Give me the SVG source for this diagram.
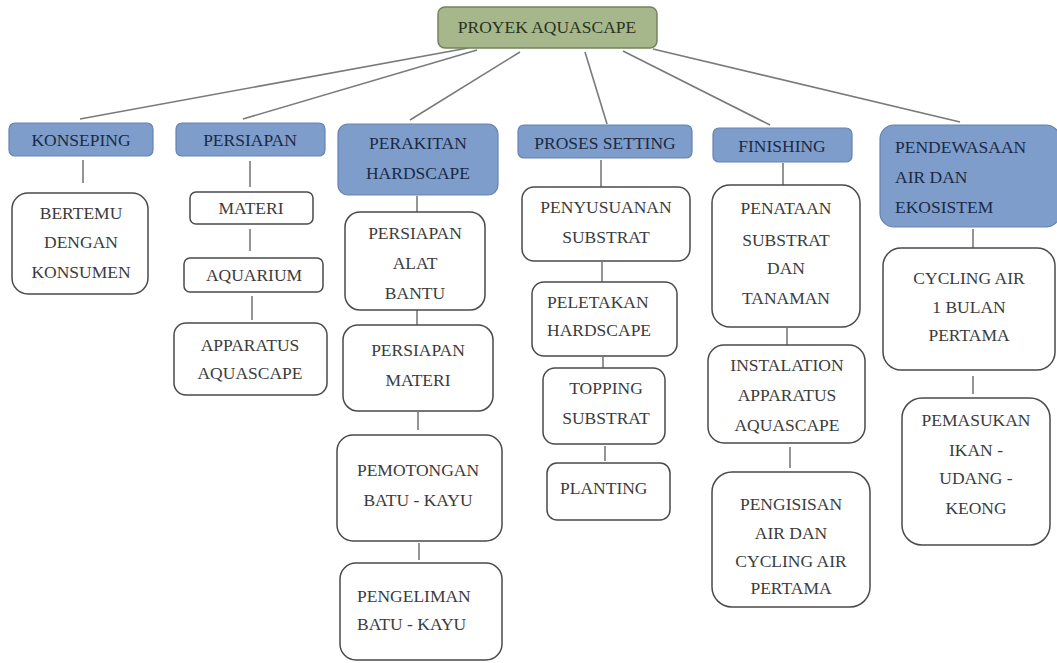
<svg xmlns="http://www.w3.org/2000/svg" width="1057" height="663" viewBox="0 0 1057 663">
<style>
text{font-family:"Liberation Serif","Times New Roman",serif;font-size:17.5px;text-anchor:middle}
.root rect{fill:#a7b78c;stroke:#74845a;stroke-width:1.5}
.root text{fill:#2a3320}
.l1 rect{fill:#7e9dcb;stroke:#6583b2;stroke-width:1.2}
.l1 text{fill:#1b2a44}
.l2 rect{fill:#ffffff;stroke:#4a4a4a;stroke-width:1.5}
.l2 text{fill:#3c3c3c}
.lt{text-anchor:start}
#connectors line{stroke:#7a7a7a;stroke-width:1.6}
</style>
<rect width="1057" height="663" fill="#ffffff"/>
<g id="connectors">
<line x1="468" y1="48" x2="80" y2="119"/>
<line x1="477" y1="50" x2="243" y2="119"/>
<line x1="520" y1="52" x2="410" y2="120"/>
<line x1="585" y1="52" x2="607" y2="124"/>
<line x1="623" y1="51" x2="770" y2="125"/>
<line x1="653" y1="49" x2="960" y2="122"/>
<line x1="83" y1="160" x2="83" y2="183"/>
<line x1="250" y1="161" x2="250" y2="187"/>
<line x1="250" y1="229" x2="250" y2="251"/>
<line x1="252" y1="296" x2="252" y2="320"/>
<line x1="417" y1="196" x2="417" y2="212"/>
<line x1="417" y1="310" x2="417" y2="325"/>
<line x1="418" y1="412" x2="418" y2="430"/>
<line x1="419" y1="543" x2="419" y2="560"/>
<line x1="601" y1="160" x2="601" y2="187"/>
<line x1="602" y1="262" x2="602" y2="282"/>
<line x1="603" y1="357" x2="603" y2="368"/>
<line x1="605" y1="446" x2="605" y2="461"/>
<line x1="783" y1="163" x2="783" y2="185"/>
<line x1="787" y1="328" x2="787" y2="345"/>
<line x1="790" y1="447" x2="790" y2="468"/>
<line x1="973" y1="229" x2="973" y2="248"/>
<line x1="973" y1="376" x2="973" y2="394"/>
</g>
<g id="proyek" class="root"><rect x="438" y="7" width="219" height="41" rx="7"/><text x="547" y="33">PROYEK AQUASCAPE</text></g>
<g id="konseping" class="l1"><rect x="9" y="123" width="144" height="33" rx="6"/><text x="81" y="146">KONSEPING</text></g>
<g id="persiapan" class="l1"><rect x="176" y="123" width="149" height="33" rx="6"/><text x="250" y="146">PERSIAPAN</text></g>
<g id="perakitan" class="l1"><rect x="338" y="124" width="160" height="71" rx="10"/><text x="418" y="149">PERAKITAN</text><text x="418" y="179">HARDSCAPE</text></g>
<g id="proses" class="l1"><rect x="518" y="125" width="174" height="33" rx="6"/><text x="605" y="149">PROSES SETTING</text></g>
<g id="finishing" class="l1"><rect x="713" y="128" width="139" height="34" rx="6"/><text x="782" y="152">FINISHING</text></g>
<g id="pendewasaan" class="l1"><rect x="880" y="125" width="180" height="102" rx="14"/><text class="lt" x="895" y="153">PENDEWASAAN</text><text class="lt" x="895" y="183">AIR DAN</text><text class="lt" x="895" y="213">EKOSISTEM</text></g>
<g id="bertemu" class="l2"><rect x="12" y="193" width="136" height="101" rx="16"/><text x="81" y="219">BERTEMU</text><text x="81" y="248">DENGAN</text><text x="81" y="278">KONSUMEN</text></g>
<g id="materi" class="l2"><rect x="190" y="192" width="123" height="32" rx="6"/><text x="251" y="214">MATERI</text></g>
<g id="aquarium" class="l2"><rect x="184" y="258" width="139" height="34" rx="6"/><text x="254" y="281">AQUARIUM</text></g>
<g id="apparatus" class="l2"><rect x="174" y="323" width="153" height="72" rx="12"/><text x="250" y="351">APPARATUS</text><text x="250" y="379">AQUASCAPE</text></g>
<g id="alat" class="l2"><rect x="345" y="212" width="140" height="98" rx="15"/><text x="415" y="239">PERSIAPAN</text><text x="415" y="269">ALAT</text><text x="415" y="299">BANTU</text></g>
<g id="persmateri" class="l2"><rect x="343" y="325" width="150" height="86" rx="15"/><text x="418" y="356">PERSIAPAN</text><text x="418" y="386">MATERI</text></g>
<g id="pemotongan" class="l2"><rect x="337" y="435" width="165" height="106" rx="16"/><text x="418" y="476">PEMOTONGAN</text><text x="418" y="506">BATU - KAYU</text></g>
<g id="pengeliman" class="l2"><rect x="340" y="563" width="162" height="97" rx="16"/><text class="lt" x="357" y="602">PENGELIMAN</text><text class="lt" x="357" y="630">BATU - KAYU</text></g>
<g id="penyusunan" class="l2"><rect x="522" y="187" width="168" height="74" rx="12"/><text x="606" y="213">PENYUSUANAN</text><text x="606" y="243">SUBSTRAT</text></g>
<g id="peletakan" class="l2"><rect x="532" y="282" width="145" height="74" rx="12"/><text class="lt" x="547" y="308">PELETAKAN</text><text class="lt" x="547" y="336">HARDSCAPE</text></g>
<g id="topping" class="l2"><rect x="543" y="368" width="122" height="76" rx="12"/><text x="606" y="394">TOPPING</text><text x="606" y="424">SUBSTRAT</text></g>
<g id="planting" class="l2"><rect x="547" y="463" width="123" height="57" rx="10"/><text class="lt" x="560" y="494">PLANTING</text></g>
<g id="penataan" class="l2"><rect x="712" y="185" width="148" height="142" rx="18"/><text x="786" y="214">PENATAAN</text><text x="786" y="246">SUBSTRAT</text><text x="786" y="274">DAN</text><text x="786" y="304">TANAMAN</text></g>
<g id="instalation" class="l2"><rect x="708" y="345" width="157" height="98" rx="16"/><text x="787" y="371">INSTALATION</text><text x="787" y="401">APPARATUS</text><text x="787" y="431">AQUASCAPE</text></g>
<g id="pengisisan" class="l2"><rect x="712" y="472" width="158" height="135" rx="20"/><text x="791" y="510">PENGISISAN</text><text x="791" y="539">AIR DAN</text><text x="791" y="567">CYCLING AIR</text><text x="791" y="594">PERTAMA</text></g>
<g id="cycling" class="l2"><rect x="883" y="248" width="172" height="122" rx="18"/><text x="969" y="284">CYCLING AIR</text><text x="969" y="313">1 BULAN</text><text x="969" y="341">PERTAMA</text></g>
<g id="pemasukan" class="l2"><rect x="902" y="398" width="148" height="147" rx="20"/><text x="976" y="426">PEMASUKAN</text><text x="976" y="456">IKAN  -</text><text x="976" y="484">UDANG -</text><text x="976" y="514">KEONG</text></g>
</svg>
